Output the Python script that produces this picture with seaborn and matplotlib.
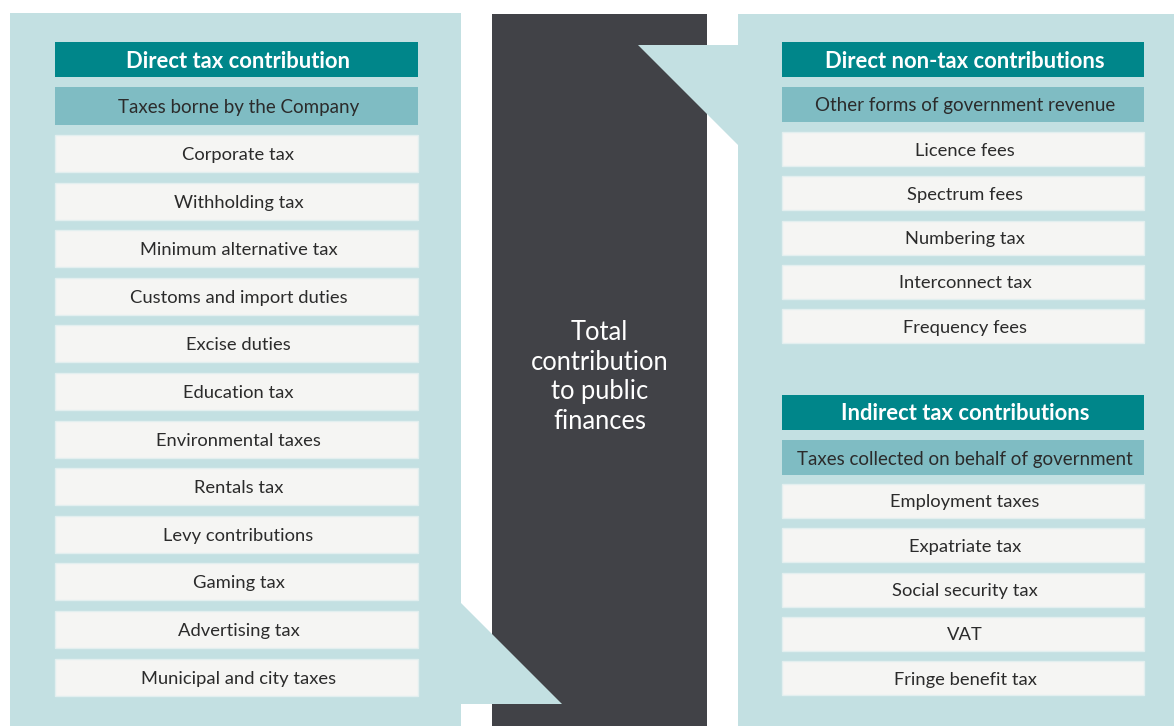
import matplotlib
matplotlib.use("Agg")
import matplotlib.pyplot as plt
from matplotlib.patches import Rectangle, Polygon
import seaborn as sns

# ---- content ----
left_title = "Direct tax contribution"
left_subtitle = "Taxes borne by the Company"
left_items = ["Corporate tax", "Withholding tax", "Minimum alternative tax",
              "Customs and import duties", "Excise duties", "Education tax",
              "Environmental taxes", "Rentals tax", "Levy contributions",
              "Gaming tax", "Advertising tax", "Municipal and city taxes"]

center_text = "Total\ncontribution\nto public\nfinances"

right_top_title = "Direct non-tax contributions"
right_top_subtitle = "Other forms of government revenue"
right_top_items = ["Licence fees", "Spectrum fees", "Numbering tax",
                   "Interconnect tax", "Frequency fees"]

right_bot_title = "Indirect tax contributions"
right_bot_subtitle = "Taxes collected on behalf of government"
right_bot_items = ["Employment taxes", "Expatriate tax", "Social security tax",
                   "VAT", "Fringe benefit tax"]

# ---- style ----
sns.set_style("white")
plt.rcParams['font.family'] = ['Lato', 'DejaVu Sans']

C_PANEL = "#C3E0E2"
C_HEAD = "#00868A"
C_SUB = "#7FBCC3"
C_ITEM = "#F5F5F3"
C_EDGE = "#E2EFEF"
C_DARK = "#414247"
C_TXT = "#2B2B2B"

W, H = 1174, 726
fig = plt.figure(figsize=(W / 100, H / 100), dpi=100)
ax = fig.add_axes([0, 0, 1, 1])
ax.set_xlim(0, W)
ax.set_ylim(H, 0)
ax.axis("off")

def rect(x0, y0, x1, y1, fc, ec="none", lw=0, z=1):
    ax.add_patch(Rectangle((x0, y0), x1 - x0, y1 - y0, facecolor=fc,
                           edgecolor=ec, linewidth=lw, zorder=z))

# panels
rect(10, 13, 461, 726, C_PANEL)
rect(492, 14, 707, 726, C_DARK)
rect(738, 14, 1174, 726, C_PANEL)
# pointers
ax.add_patch(Polygon([(461, 603), (562, 704), (461, 704)], closed=True,
                     facecolor=C_PANEL, edgecolor="none", zorder=2))
ax.add_patch(Polygon([(638, 45), (738, 45), (738, 145)], closed=True,
                     facecolor=C_PANEL, edgecolor="none", zorder=2))

ax.text(599.5, 377, center_text, ha="center", va="center", color="white",
        fontsize=18.4, linespacing=1.23, zorder=3)

def column(x0, x1, title, t_y, subtitle, s_y, items, first_top, pitch, h):
    cx = (x0 + x1) / 2 + 2
    rect(x0, t_y[0], x1, t_y[1], C_HEAD, z=3)
    ax.text(cx, (t_y[0] + t_y[1]) / 2 + 1.5, title, ha="center", va="center",
            color="white", fontsize=15.8, fontweight="bold", zorder=4)
    rect(x0, s_y[0], x1, s_y[1], C_SUB, z=3)
    ax.text(cx, (s_y[0] + s_y[1]) / 2 + 1.5, subtitle, ha="center", va="center",
            color=C_TXT, fontsize=13.5, zorder=4)
    for i, lab in enumerate(items):
        top = first_top + i * pitch
        rect(x0, top, x1, top + h, C_ITEM, ec=C_EDGE, lw=1, z=3)
        ax.text(cx, top + h / 2 + 1.5, lab, ha="center", va="center",
                color=C_TXT, fontsize=13.2, zorder=4)

column(55, 418, left_title, (42, 77), left_subtitle, (87, 125),
       left_items, 135, 47.6, 37)
column(782, 1144, right_top_title, (42, 77), right_top_subtitle, (87, 122),
       right_top_items, 132, 44.3, 34)
column(782, 1144, right_bot_title, (395, 430), right_bot_subtitle, (440, 475),
       right_bot_items, 484, 44.3, 34)

fig.savefig("out.png", dpi=100, facecolor="white")
